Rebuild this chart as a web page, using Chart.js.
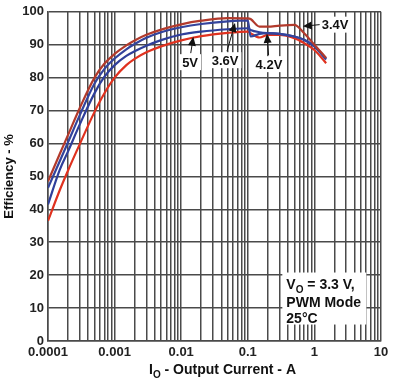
<!DOCTYPE html>
<html>
<head>
<meta charset="utf-8">
<script src="https://cdn.jsdelivr.net/npm/chart.js@4"></script>
<style>
  html, body { margin: 0; padding: 0; background: #fff; }
  #wrap { width: 397px; height: 385px; }
</style>
</head>
<body>
<div id="wrap"><canvas id="myChart" width="397" height="385"></canvas></div>
<script>
// output current (A)
const current = [0.0001, 0.00015, 0.0002, 0.0003, 0.0005, 0.0007, 0.001, 0.0015, 0.002, 0.003, 0.005,
  0.01, 0.02, 0.05, 0.1, 0.11, 0.15, 0.2, 0.3, 0.5, 0.7, 1, 1.5];

// efficiency (%) per input voltage
const eff34 = [48.5, 56.8, 62.6, 70.8, 80, 84.2, 87.2, 89.8, 91.3, 93, 94.6,
  96.2, 97.3, 98.1, 98, 97.8, 95.5, 95.5, 95.8, 96, 93.5, 90, 86];
const eff36 = [46.5, 54.6, 60.4, 68.6, 78.2, 82.6, 85.8, 88.6, 90.2, 92.1, 93.8,
  95.3, 96.3, 97.1, 97.4, 92.5, 93.3, 93.5, 93.3, 92.5, 91.5, 89.5, 85.5];
const eff42 = [41.5, 52, 57.6, 65.8, 75.3, 80.2, 83.8, 86.6, 88, 89.7, 91.4,
  93.1, 94, 94.7, 95, 94.5, 93.8, 93.5, 93.3, 92.5, 91.5, 89.5, 85.8];
const eff50 = [36.5, 45.8, 51.8, 59.8, 69.6, 75.2, 80, 83.8, 85.7, 87.7, 89.5,
  91.3, 92.6, 93.6, 94, 93.5, 92.2, 93, 93, 92, 90.5, 88.4, 84.4];

const xTicks = [0.0001, 0.001, 0.01, 0.1, 1, 10];
const yTicks = [0, 10, 20, 30, 40, 50, 60, 70, 80, 90, 100];

// curve labels: text, label centre, arrow tip (data units)
const curveLabels = [
  { text: "5V", at: [0.0136, 84.7], tip: [0.0152, 92.4] },
  { text: "3.6V", at: [0.0455, 85.3], tip: [0.0643, 96.6] },
  { text: "4.2V", at: [0.208, 84.1], tip: [0.194, 93.3] },
  { text: "3.4V", at: [2.04, 96.1], tip: [0.67, 95.6] }
];
const noteLines = ["= 3.3 V,", "PWM Mode", "25°C"];

const gridColor = "#4a4a4a";
const fontFamily = "'Liberation Sans', Arial, sans-serif";

function series(vals, color) {
  return {
    data: current.map((c, i) => ({ x: c, y: vals[i] })),
    borderColor: color,
    borderWidth: 2.2,
    pointRadius: 0,
    cubicInterpolationMode: "monotone",
    fill: false
  };
}

const annotate = {
  id: "annotate",
  afterDatasetsDraw(chart) {
    const ctx = chart.ctx;
    const xs = chart.scales.x, ys = chart.scales.y;
    ctx.save();
    ctx.font = "bold 13px " + fontFamily;
    ctx.textBaseline = "middle";
    ctx.textAlign = "center";
    curveLabels.forEach(l => {
      const px = xs.getPixelForValue(l.at[0]), py = ys.getPixelForValue(l.at[1]);
      const tx = xs.getPixelForValue(l.tip[0]), ty = ys.getPixelForValue(l.tip[1]);
      const w = ctx.measureText(l.text).width;
      ctx.fillStyle = "#fff";
      ctx.fillRect(px - w / 2 - 3, py - 8, w + 6, 16);
      ctx.fillStyle = "#111";
      ctx.fillText(l.text, px, py + 1);
      // arrow from label edge toward curve
      let sx, sy;
      if (Math.abs(tx - px) > Math.abs(ty - py)) {
        sx = px - w / 2 - 2; sy = py;
      } else {
        sx = px + (tx - px) * 0.2; sy = py - 9;
      }
      const ang = Math.atan2(ty - sy, tx - sx);
      ctx.strokeStyle = "#111";
      ctx.lineWidth = 1;
      ctx.beginPath();
      ctx.moveTo(sx, sy);
      ctx.lineTo(tx - Math.cos(ang) * 6, ty - Math.sin(ang) * 6);
      ctx.stroke();
      ctx.beginPath();
      ctx.moveTo(tx, ty);
      ctx.lineTo(tx - Math.cos(ang) * 9 - Math.sin(ang) * 4, ty - Math.sin(ang) * 9 + Math.cos(ang) * 4);
      ctx.lineTo(tx - Math.cos(ang) * 9 + Math.sin(ang) * 4, ty - Math.sin(ang) * 9 - Math.cos(ang) * 4);
      ctx.closePath();
      ctx.fillStyle = "#111";
      ctx.fill();
    });

    // note box
    const bx = xs.getPixelForValue(0.33), by = ys.getPixelForValue(20.8);
    ctx.fillStyle = "#fff";
    ctx.fillRect(bx, by, 84, 52);
    ctx.fillStyle = "#111";
    ctx.textAlign = "left";
    ctx.textBaseline = "alphabetic";
    ctx.font = "bold 14px " + fontFamily;
    ctx.fillText("V", bx + 4, by + 16);
    const vw = ctx.measureText("V").width;
    ctx.font = "bold 10px " + fontFamily;
    ctx.fillText("O", bx + 4 + vw, by + 20);
    const ow = ctx.measureText("O").width;
    ctx.font = "bold 14px " + fontFamily;
    ctx.fillText(" " + noteLines[0], bx + 4 + vw + ow, by + 16);
    ctx.fillText(noteLines[1], bx + 4, by + 34);
    ctx.fillText(noteLines[2], bx + 4, by + 50);

    // axis titles
    const ca = chart.chartArea;
    const parts = [["I", 14, 0], ["O", 10, 4], [" - Output Current - A", 14, 0]];
    let total = 0;
    parts.forEach(p => { ctx.font = "bold " + p[1] + "px " + fontFamily; total += ctx.measureText(p[0]).width; });
    let cx = (ca.left + ca.right) / 2 + 8 - total / 2;
    parts.forEach(p => {
      ctx.font = "bold " + p[1] + "px " + fontFamily;
      ctx.fillText(p[0], cx, 374 + p[2]);
      cx += ctx.measureText(p[0]).width;
    });
    ctx.translate(13, (ca.top + ca.bottom) / 2);
    ctx.rotate(-Math.PI / 2);
    ctx.textAlign = "center";
    ctx.font = "bold 13px " + fontFamily;
    ctx.fillText("Efficiency - %", 0, 0);
    ctx.restore();
  }
};

new Chart(document.getElementById("myChart"), {
  type: "line",
  data: {
    datasets: [
      series(eff34, "#b23a2c"),
      series(eff36, "#34449c"),
      series(eff42, "#2f3f9a"),
      series(eff50, "#e0321f")
    ]
  },
  options: {
    responsive: false,
    animation: false,
    layout: { padding: { top: 8, right: 16, left: 0, bottom: 0 } },
    plugins: { legend: { display: false }, tooltip: { enabled: false } },
    scales: {
      x: {
        type: "logarithmic",
        min: 0.0001,
        max: 10,
        afterFit(scale) { scale.height = 44; },
        afterBuildTicks(scale) {
          const t = [];
          for (let e = -4; e < 1; e++) {
            for (let m = 1; m < 10; m++) t.push({ value: m * Math.pow(10, e) });
          }
          t.push({ value: 10 });
          scale.ticks = t;
        },
        ticks: {
          autoSkip: false,
          maxRotation: 0,
          padding: 4,
          color: "#222",
          font: { family: fontFamily, size: 13, weight: "bold" },
          callback(v) { return xTicks.includes(v) ? String(v) : ""; }
        },
        grid: { color: gridColor, lineWidth: 1.5, drawTicks: false },
        border: { color: gridColor, width: 1.5 }
      },
      y: {
        min: 0,
        max: 100,
        afterFit(scale) { scale.width = 48; },
        afterBuildTicks(scale) { scale.ticks = yTicks.map(v => ({ value: v })); },
        ticks: {
          padding: 4,
          color: "#222",
          font: { family: fontFamily, size: 13, weight: "bold" }
        },
        grid: { color: gridColor, lineWidth: 1.5, drawTicks: false },
        border: { color: gridColor, width: 1.5 }
      }
    }
  },
  plugins: [annotate]
});
</script>
</body>
</html>
